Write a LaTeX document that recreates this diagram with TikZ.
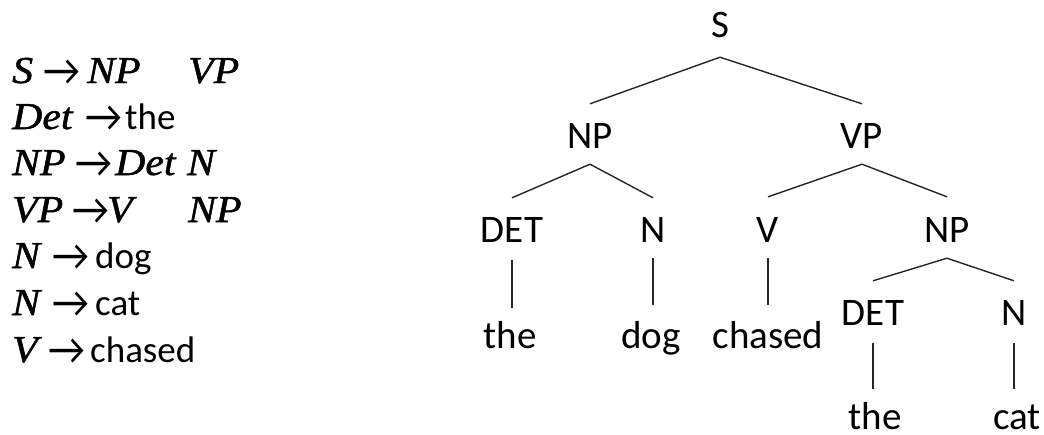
\documentclass[tikz,border=0pt]{standalone}
\usepackage{fontspec}
\newfontfamily\calfont{Carlito}
\newfontfamily\mitfont{Liberation Serif}[ItalicFeatures={FakeBold=1.3, FakeStretch=1.1}]
\usetikzlibrary{calc}
\tikzset{
  tn/.style={font=\calfont\fontsize{39}{47}\selectfont, inner sep=0pt, text height=25pt, text depth=0pt, anchor=base},
  gr/.style={font=\calfont\fontsize{37}{44}\selectfont, inner sep=0pt, anchor=base west},
  edge/.style={line width=1.4pt, draw=black!85}
}
\newcommand{\gl}[2]{\makebox[#1][l]{#2}}
\newcommand{\mth}[1]{{\mitfont\itshape\fontsize{38}{44}\selectfont #1}}
\newcommand{\arr}{\raisebox{-2pt}{\scalebox{1.1}[1.2]{\calfont →}}}
\newcommand{\tw}[1]{#1}
\begin{document}
\begin{tikzpicture}[x=1pt,y=-1pt]
\useasboundingbox (0,0) rectangle (1044,434);
% grammar
\node[gr] (r1) at (12,83) {\gl{31pt}{\mth{S}}\gl{44pt}{\arr}\gl{101pt}{\mth{NP}}\mth{VP}};
\node[gr] (r2) at (12,129) {\gl{73pt}{\mth{Det}}\gl{40pt}{\arr}\tw{the}};
\node[gr] (r3) at (12,175) {\gl{63pt}{\mth{NP}}\gl{40pt}{\arr}\gl{72pt}{\mth{Det}}\mth{N}};
\node[gr] (r4) at (12,222) {\gl{60pt}{\mth{VP}}\gl{35pt}{\arr}\gl{81pt}{\mth{V}}\mth{NP}};
\node[gr] (r5) at (12,268) {\gl{40pt}{\mth{N}}\gl{43pt}{\arr}\tw{dog}};
\node[gr] (r6) at (12,315) {\gl{40pt}{\mth{N}}\gl{43pt}{\arr}\tw{cat}};
\node[gr] (r7) at (12,362) {\gl{36pt}{\mth{V}}\gl{42pt}{\arr}\tw{chased}};
% tree nodes
\node[tn] (s) at (720,37) {S};
\node[tn] (np1) at (590,148) {NP};
\node[tn] (vp) at (862,148) {VP};
\node[tn] (det1) at (512,242) {DET};
\node[tn] (n1) at (653,242) {N};
\node[tn] (v) at (768,242) {V};
\node[tn] (np2) at (947,242) {NP};
\node[tn] (the1) at (510,348) {the};
\node[tn] (dog) at (651,348) {dog};
\node[tn] (chased) at (768,348) {chased};
\node[tn] (det2) at (873,325) {DET};
\node[tn] (n2) at (1014,325) {N};
\node[tn] (the2) at (875,429) {the};
\node[tn] (cat) at (1017,429) {cat};
% edges
\draw[edge] ($(s.south)+(0,20)$) -- ($(np1.north)+(0,-19)$);
\draw[edge] ($(s.south)+(0,20)$) -- ($(vp.north)+(0,-19)$);
\draw[edge] ($(np1.south)+(0,16)$) -- ($(det1.north)+(0,-19)$);
\draw[edge] ($(np1.south)+(0,16)$) -- ($(n1.north)+(0,-19)$);
\draw[edge] ($(vp.south)+(0,16)$) -- ($(v.north)+(0,-20)$);
\draw[edge] ($(vp.south)+(0,16)$) -- ($(np2.north)+(0,-20)$);
\draw[edge] ($(np2.south)+(0,16)$) -- ($(det2.north)+(0,-19)$);
\draw[edge] ($(np2.south)+(0,16)$) -- ($(n2.north)+(0,-19)$);
\draw[edge] ($(det1.south)+(0,18)$) -- ($(det1.south |- the1.north)+(0,-15)$);
\draw[edge] ($(n1.south)+(0,16)$) -- ($(n1.south |- dog.north)+(0,-18)$);
\draw[edge] ($(v.south)+(0,16)$) -- ($(v.south |- chased.north)+(0,-18)$);
\draw[edge] ($(det2.south)+(0,18)$) -- ($(det2.south |- the2.north)+(0,-15)$);
\draw[edge] ($(n2.south)+(0,18)$) -- ($(n2.south |- cat.north)+(0,-15)$);
\end{tikzpicture}
\end{document}
